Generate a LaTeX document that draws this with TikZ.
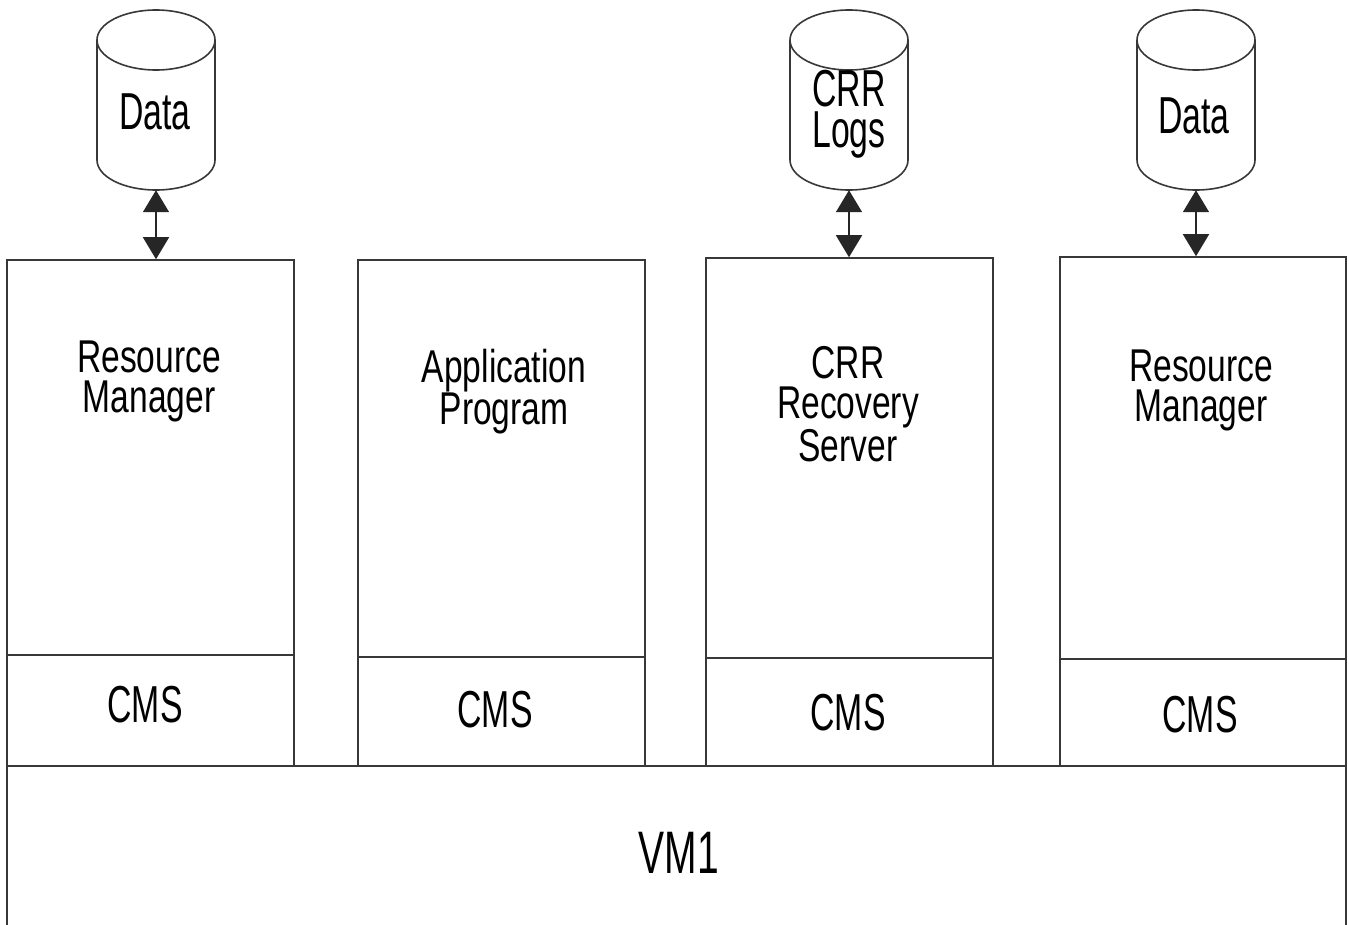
\documentclass[tikz,border=0pt]{standalone}
\usepackage{fontspec}
\newfontfamily\cond[FakeStretch=0.65]{Liberation Sans}
\newfontfamily\condw[FakeStretch=0.73]{Liberation Sans}
\usetikzlibrary{arrows.meta}
\tikzset{
  x=1pt, y=-1pt,
  ln/.style={draw=black!78, line width=1.6pt},
  boxpart/.style={ln, rectangle, inner sep=0pt, minimum width=287pt},
  cylbox/.style={rectangle, inner sep=0pt, minimum width=118pt, minimum height=180pt},
  lbl/.style={font=\condw\fontsize{46}{40}\selectfont, align=center, inner sep=0pt, text=black},
  biglbl/.style={font=\cond\fontsize{52}{41}\selectfont, align=center, inner sep=0pt, text=black},
  vmlbl/.style={font=\cond\fontsize{60}{48}\selectfont, inner sep=0pt, text=black},
  dbl/.style={draw=black!85, line width=1.6pt, {Triangle[width=26pt,length=22pt]}-{Triangle[width=26pt,length=22pt]}},
  pics/cyl/.style={code={
    \draw[ln] (0,-60) ellipse [x radius=59pt, y radius=30pt];
    \draw[ln] (-59,-60) -- (-59,60)
      .. controls (-59,76.6) and (-32.6,90) .. (0,90)
      .. controls (32.6,90) and (59,76.6) .. (59,60) -- (59,-60);
  }}
}
\begin{document}
\begin{tikzpicture}
\useasboundingbox (0,0) rectangle (1349,924);
\clip (0,0) rectangle (1349,924);
\fill[white] (0,0) rectangle (1349,924);

% cylinders
\node[cylbox] (d1) at (156,100) {};
\pic at (d1.center) {cyl};
\node[biglbl] (d1l) at (155,112) {Data};

\node[cylbox] (d2) at (849,100) {};
\pic at (d2.center) {cyl};
\node[biglbl] (d2l) at (849,114) {CRR\\Logs};

\node[cylbox] (d3) at (1196,100) {};
\pic at (d3.center) {cyl};
\node[biglbl] (d3l) at (1194,116) {Data};

% boxes
\node[boxpart, minimum height=395pt] (rm1) at (150.5,457.5) {};
\node[boxpart, minimum height=111pt] (cms1) at (150.5,710.5) {};
\node[boxpart, minimum height=397pt] (ap) at (501.5,458.5) {};
\node[boxpart, minimum height=109pt] (cms2) at (501.5,711.5) {};
\node[boxpart, minimum height=400pt] (crr) at (849.5,458) {};
\node[boxpart, minimum height=108pt] (cms3) at (849.5,712) {};
\node[boxpart, minimum height=402pt, minimum width=286pt] (rm2) at (1203,458) {};
\node[boxpart, minimum height=107pt, minimum width=286pt] (cms4) at (1203,712.5) {};
\node[ln, rectangle, inner sep=0pt, minimum width=1339pt, minimum height=180pt] (vm) at (676.5,856) {};

% labels
\node[lbl] (rm1l) at (149,381) {Resource\\Manager};
\node[lbl] (apl) at (504,392) {Application\\Program};
\node[lbl] (crrl) at (848,404) {CRR\\Recovery\\Server};
\node[lbl] (rm2l) at (1201,390) {Resource\\Manager};
\node[biglbl] (cms1l) at (145,705) {CMS};
\node[biglbl] (cms2l) at (495,710) {CMS};
\node[biglbl] (cms3l) at (848,713) {CMS};
\node[biglbl] (cms4l) at (1200,715) {CMS};
\node[vmlbl] (vml) at (679,853) {VM1};

% arrows
\draw[dbl] (d1.south) -- (d1.south |- rm1.north);
\draw[dbl] (d2.south) -- (d2.south |- crr.north);
\draw[dbl] (d3.south) -- (d3.south |- rm2.north);
\end{tikzpicture}
\end{document}
